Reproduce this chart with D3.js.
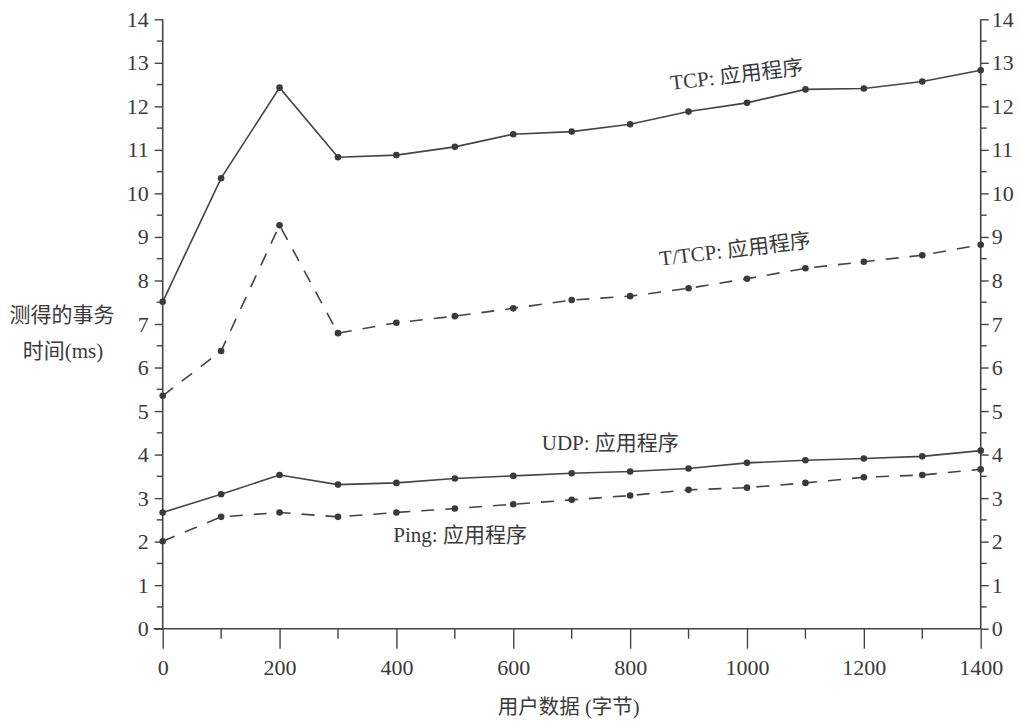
<!DOCTYPE html>
<html><head><meta charset="utf-8">
<script src="https://cdn.jsdelivr.net/npm/d3@7"></script>
<style>
body{margin:0;background:#fff;}
text{font-family:"Liberation Serif","Noto Sans CJK SC",serif;fill:#3a3a3a;}
</style></head>
<body>
<svg id="c" width="1020" height="722"></svg>
<script>
const sizes = [0,100,200,300,400,500,600,700,800,900,1000,1100,1200,1300,1400];
const tcp   = [7.51,10.35,12.43,10.83,10.88,11.07,11.36,11.42,11.59,11.88,12.08,12.39,12.41,12.57,12.83];
const ttcp  = [5.35,6.38,9.27,6.79,7.03,7.18,7.36,7.55,7.64,7.82,8.04,8.28,8.43,8.58,8.82];
const udp   = [2.67,3.09,3.53,3.31,3.35,3.45,3.51,3.57,3.61,3.68,3.81,3.87,3.91,3.96,4.09];
const ping  = [2.01,2.57,2.67,2.57,2.67,2.76,2.86,2.96,3.06,3.19,3.24,3.35,3.48,3.53,3.66];
const seriesNames = ["TCP: 应用程序","T/TCP: 应用程序","UDP: 应用程序","Ping: 应用程序"];
const yTicks = d3.range(0,15,1);
const yMinor = d3.range(0.5,14,1);
const xTicks = [0,200,400,600,800,1000,1200,1400];
const xMinor = [100,300,500,700,900,1100,1300];
const xTitle = "用户数据 (字节)";
const yTitle = ["测得的事务","时间(ms)"];

const svg = d3.select("#c");
const col = "#444";
const x = d3.scaleLinear().domain([0,1400]).range([162.7,980.7]);
const y = d3.scaleLinear().domain([0,14]).range([628.7,19.3]);

// axes
const gL = svg.append("g").attr("transform",`translate(${x(0)},0)`)
  .call(d3.axisLeft(y).tickValues(yTicks).tickSize(8).tickPadding(6).tickFormat(d3.format("d")));
gL.append("g").selectAll("line").data(yMinor).join("line")
  .attr("x1",0).attr("x2",-6).attr("y1",d=>y(d)).attr("y2",d=>y(d));
const gR = svg.append("g").attr("transform",`translate(${x(1400)},0)`)
  .call(d3.axisRight(y).tickValues(yTicks).tickSize(8).tickPadding(3).tickFormat(d3.format("d")));
gR.append("g").selectAll("line").data(yMinor).join("line")
  .attr("x1",0).attr("x2",6).attr("y1",d=>y(d)).attr("y2",d=>y(d));
const gB = svg.append("g").attr("transform",`translate(0,${y(0)})`)
  .call(d3.axisBottom(x).tickValues(xTicks).tickSize(20).tickPadding(8).tickFormat(d3.format("d")));
gB.append("g").selectAll("line").data(xMinor).join("line")
  .attr("y1",0).attr("y2",10).attr("x1",d=>x(d)).attr("x2",d=>x(d));
svg.append("line").attr("x1",x(0)-9).attr("x2",x(0)).attr("y1",y(0)).attr("y2",y(0));

[gL,gR,gB].forEach(g=>{
  g.selectAll("path.domain").attr("stroke",col).attr("stroke-width",1.6);
  g.selectAll("text").style("font-family","Liberation Serif, serif").style("font-size","22px").attr("fill","#333");
});
svg.selectAll("line").attr("stroke",col).attr("stroke-width",1.4);
gL.select("path.domain").attr("d",`M0,${y(14)}V${y(0)}`);
gR.select("path.domain").attr("d",`M0,${y(14)}V${y(0)}`);
gB.select("path.domain").attr("d",`M${x(0)},0H${x(1400)}`);
gB.selectAll("text").attr("dy","0.85em");

// lines
const data = [
  {v:tcp, dash:null},
  {v:ttcp, dash:"13,11"},
  {v:udp, dash:null},
  {v:ping, dash:"13,11"}
];
const line = d3.line().x((d,i)=>x(sizes[i])).y(d=>y(d));
data.forEach(s=>{
  svg.append("path").attr("d",line(s.v)).attr("fill","none").attr("stroke",col)
    .attr("stroke-width",1.6).attr("stroke-dasharray",s.dash);
  svg.append("g").selectAll("circle").data(s.v).join("circle")
    .attr("cx",(d,i)=>x(sizes[i])).attr("cy",d=>y(d)).attr("r",3.3).attr("fill","#3a3a3a");
});

// series labels (positions in data units)
const lab = (t,dx,dy,rot)=>svg.append("text").attr("x",0).attr("y",0)
  .attr("transform",`translate(${x(dx)},${y(dy)}) rotate(${rot})`).attr("text-anchor","middle")
  .style("font-size","21px").text(t);
lab(seriesNames[0], 984, 12.56, -7);
lab(seriesNames[1], 981, 8.55, -7);
lab(seriesNames[2], 766, 4.11, 0);
lab(seriesNames[3], 509, 2.0, 0);

// axis titles
svg.append("text").attr("x",x(700)-3).attr("y",714).attr("text-anchor","middle")
  .style("font-size","20.5px").text(xTitle);
svg.append("text").attr("x",62).attr("y",322).attr("text-anchor","middle")
  .style("font-size","21px").text(yTitle[0]);
svg.append("text").attr("x",63).attr("y",358).attr("text-anchor","middle")
  .style("font-size","21px").text(yTitle[1]);
</script>
</body></html>
